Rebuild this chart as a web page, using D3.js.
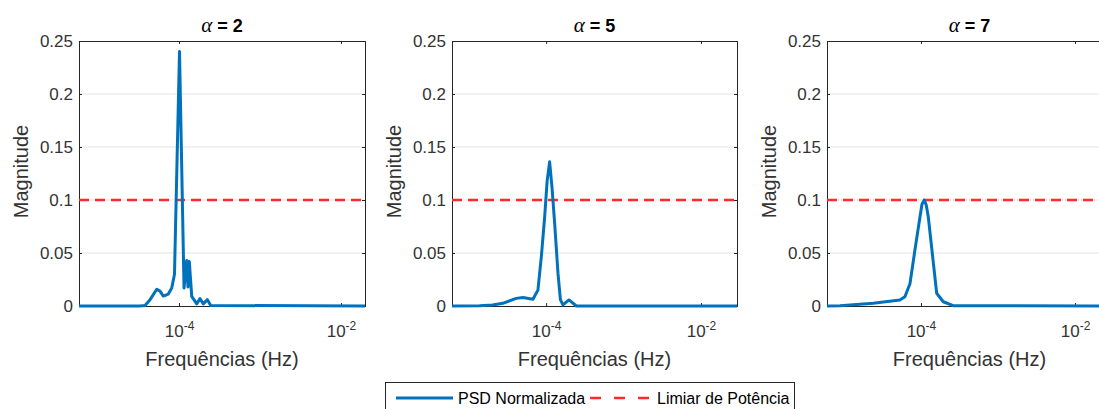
<!DOCTYPE html>
<html><head><meta charset="utf-8">
<script src="https://cdn.jsdelivr.net/npm/d3@7"></script>
<style>body{margin:0;background:#fff;} svg{display:block;}</style>
</head><body>
<svg id="c" width="1099" height="409"></svg>
<script>
// ---- data ----
const alphas = ["2", "5", "7"];
const yTicks = [0, 0.05, 0.1, 0.15, 0.2, 0.25];
const yTickLabels = ["0", "0.05", "0.1", "0.15", "0.2", "0.25"];
const xTicks = [1e-4, 1e-2];
const xTickExp = ["-4", "-2"];
const threshold = 0.1;
const xDomains = [[5.82e-6, 0.0198], [6.08e-6, 0.0292], [6.03e-6, 0.0302]];

const freq1 = [5.82e-6, 3.30e-5, 3.80e-5, 4.39e-5, 5.31e-5, 5.82e-5, 6.40e-5, 7.38e-5, 8.13e-5, 8.79e-5, 1.014e-4, 1.153e-4, 1.245e-4, 1.29e-4, 1.34e-4, 1.435e-4, 1.656e-4, 1.816e-4, 1.995e-4, 2.24e-4, 2.46e-4, 0.0198];
const psd1  = [0, 0, 0.0005, 0.006, 0.0158, 0.014, 0.0094, 0.0113, 0.017, 0.03, 0.24, 0.017, 0.043, 0.018, 0.042, 0.009, 0.002, 0.007, 0.002, 0.006, 0.0005, 0];

const freq2 = [6.08e-6, 1.38e-5, 2.03e-5, 2.76e-5, 4.11e-5, 5.01e-5, 6.75e-5, 7.83e-5, 8.67e-5, 9.57e-5, 1.03e-4, 1.109e-4, 1.19e-4, 1.288e-4, 1.422e-4, 1.528e-4, 1.648e-4, 1.972e-4, 2.46e-4, 0.0292];
const psd2  = [0, 0.0002, 0.001, 0.0025, 0.0072, 0.008, 0.0063, 0.015, 0.0465, 0.084, 0.118, 0.136, 0.112, 0.078, 0.031, 0.006, 0.001, 0.0057, 0, 0];

const freq3 = [6.03e-6, 8.87e-6, 2.40e-5, 5.33e-5, 6.19e-5, 7.20e-5, 8.36e-5, 9.71e-5, 1.031e-4, 1.104e-4, 1.173e-4, 1.245e-4, 1.419e-4, 1.60e-4, 1.95e-4, 2.62e-4, 0.0302];
const psd3  = [0, 0.0003, 0.0025, 0.0057, 0.0088, 0.021, 0.053, 0.084, 0.096, 0.100, 0.095, 0.084, 0.0465, 0.012, 0.004, 0.0003, 0];

const freqs = [freq1, freq2, freq3];
const psds = [psd1, psd2, psd3];

// ---- layout ----
const lefts = [79, 452, 827];
const widths = [286, 285, 285];
const plotTop = 41, plotBottom = 306;
const blue = "#0072BD", red = "#FF2A2A", axisCol = "#262626", txtCol = "#333333";
const font = "'Liberation Sans', Arial, Helvetica, sans-serif";

const svg = d3.select("#c");
const y = d3.scaleLinear().domain([0, 0.25]).range([plotBottom, plotTop]);

alphas.forEach((a, i) => {
  const L = lefts[i], R = L + widths[i];
  const x = d3.scaleLog().domain(xDomains[i]).range([L, R]);
  const g = svg.append("g");
  const clipId = "clip" + i;
  svg.append("clipPath").attr("id", clipId).append("rect")
    .attr("x", L - 2).attr("y", plotTop - 2).attr("width", widths[i] + 4).attr("height", plotBottom - plotTop + 4);

  // grid
  g.selectAll(".grid").data(yTicks.slice(1, -1)).enter().append("line")
    .attr("x1", L).attr("x2", R).attr("y1", d => y(d)).attr("y2", d => y(d))
    .attr("stroke", "#e3e3e3").attr("stroke-width", 1);

  // left axis
  const yAxis = d3.axisLeft(y).tickValues(yTicks).tickFormat((d, k) => yTickLabels[k]).tickSize(-3).tickPadding(6);
  const ya = g.append("g").attr("transform", `translate(${L},0)`).call(yAxis);
  ya.select(".domain").attr("stroke", axisCol);
  ya.selectAll(".tick line").attr("stroke", axisCol);
  ya.selectAll("text").attr("font-family", font).attr("font-size", 17).attr("fill", txtCol);
  // right axis ticks
  const yr = g.append("g").attr("transform", `translate(${R},0)`).call(d3.axisRight(y).tickValues(yTicks).tickSize(-3).tickFormat(""));
  yr.select(".domain").attr("stroke", axisCol);
  yr.selectAll(".tick line").attr("stroke", axisCol);

  // bottom axis
  const xa = g.append("g").attr("transform", `translate(0,${plotBottom})`)
    .call(d3.axisBottom(x).tickValues(xTicks).tickSize(-3).tickFormat(""));
  xa.select(".domain").attr("stroke", axisCol);
  xa.selectAll(".tick line").attr("stroke", axisCol);
  xa.selectAll(".tick").each(function(d, k) {
    const t = d3.select(this).append("text").attr("y", 31).attr("text-anchor", "middle")
      .attr("font-family", font).attr("font-size", 17).attr("fill", txtCol);
    t.append("tspan").text("10");
    t.append("tspan").attr("dy", -7).attr("font-size", 12).text(xTickExp[k]);
  });
  // top axis
  const xt = g.append("g").attr("transform", `translate(0,${plotTop})`)
    .call(d3.axisTop(x).tickValues(xTicks).tickSize(-3).tickFormat(""));
  xt.select(".domain").attr("stroke", axisCol);
  xt.selectAll(".tick line").attr("stroke", axisCol);

  // threshold line
  g.append("line").attr("x1", L).attr("x2", R).attr("y1", y(threshold)).attr("y2", y(threshold))
    .attr("stroke", red).attr("stroke-width", 2.5).attr("stroke-dasharray", "10,6");

  // PSD line
  const data = freqs[i].map((f, k) => [f, psds[i][k]]);
  g.append("path").datum(data).attr("clip-path", `url(#${clipId})`)
    .attr("d", d3.line().x(d => x(d[0])).y(d => y(d[1])))
    .attr("fill", "none").attr("stroke", blue).attr("stroke-width", 3).attr("stroke-linejoin", "round");

  // title
  const cx = (L + R) / 2;
  const tt = g.append("text").attr("x", cx).attr("y", 32).attr("text-anchor", "middle")
    .attr("font-family", font).attr("font-size", 18).attr("font-weight", "bold").attr("fill", "#000");
  tt.append("tspan").attr("font-family", "'Liberation Serif', 'Times New Roman', serif").attr("font-style", "italic").attr("font-weight", "normal").attr("font-size", 21).text("α");
  tt.append("tspan").text(" = " + a);

  // axis labels
  g.append("text").attr("x", cx).attr("y", 366).attr("text-anchor", "middle")
    .attr("font-family", font).attr("font-size", 20).attr("fill", txtCol).text("Frequências (Hz)");
  g.append("text").attr("transform", `translate(${L - 51},${(plotTop + plotBottom) / 2 - 2}) rotate(-90)`)
    .attr("text-anchor", "middle").attr("font-family", font).attr("font-size", 20).attr("fill", txtCol).text("Magnitude");
});

// legend
const lg = svg.append("g");
lg.append("rect").attr("x", 385.5).attr("y", 382.5).attr("width", 409).attr("height", 40)
  .attr("fill", "#fff").attr("stroke", axisCol).attr("stroke-width", 1);
lg.append("line").attr("x1", 396).attr("x2", 453).attr("y1", 398).attr("y2", 398).attr("stroke", blue).attr("stroke-width", 3);
lg.append("text").attr("x", 458).attr("y", 404).attr("font-family", font).attr("font-size", 16).attr("fill", "#000").text("PSD Normalizada");
lg.append("line").attr("x1", 590).attr("x2", 652).attr("y1", 398).attr("y2", 398).attr("stroke", red).attr("stroke-width", 2.5).attr("stroke-dasharray", "11,13");
lg.append("text").attr("x", 657).attr("y", 404).attr("font-family", font).attr("font-size", 16).attr("fill", "#000").text("Limiar de Potência");
</script>
</body></html>
